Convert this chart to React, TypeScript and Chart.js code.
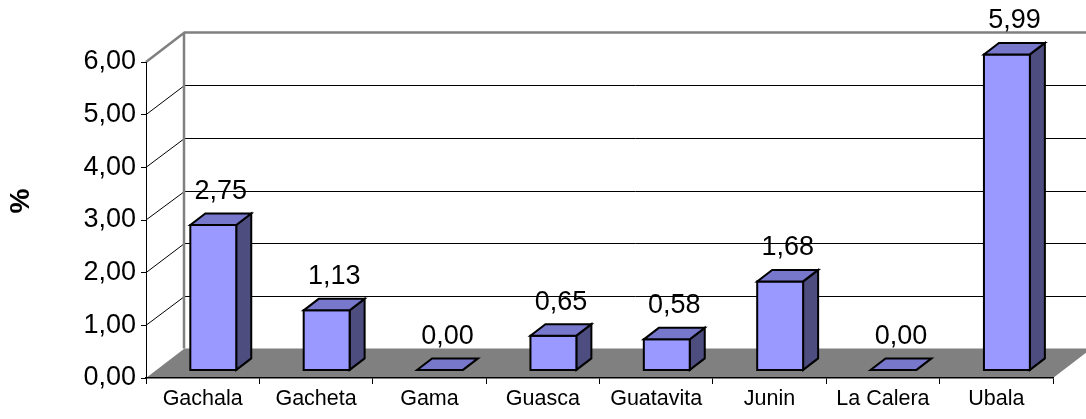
import React, { useEffect, useRef } from "react";
import { Chart, registerables } from "chart.js";

Chart.register(...registerables);

const categories = ["Gachala", "Gacheta", "Gama", "Guasca", "Guatavita", "Junin", "La Calera", "Ubala"];
const values = [2.75, 1.13, 0.0, 0.65, 0.58, 1.68, 0.0, 5.99];
const yTickValues = [0, 1, 2, 3, 4, 5, 6];
const yTitle = "%";

const FONT = "'Liberation Sans', Arial, Helvetica, sans-serif";
const fmt = (v: number) => v.toFixed(2).replace(".", ",");

const DEPTH = { x: 38.5, y: -29.5 };
const BAR_FRONT = 0.275;
const BAR_DEPTH = 0.39;
const BAR_WIDTH = 0.405;

const COLORS = {
  front: "#9999FF",
  top: "#7777CC",
  side: "#4D4D80",
  floor: "#808080",
  wallEdge: "#808080",
  grid: "#000000",
};

const threeD = {
  id: "threeD",
  beforeDraw(chart: any) {
    const { ctx, chartArea, scales } = chart;
    const ys = scales.y;
    const x0 = chartArea.left;
    const x1 = chartArea.right;
    const yb = ys.getPixelForValue(0);
    const yt = ys.getPixelForValue(yTickValues[yTickValues.length - 1]);
    ctx.save();
    // floor
    ctx.fillStyle = COLORS.floor;
    ctx.beginPath();
    ctx.moveTo(x0, yb);
    ctx.lineTo(x1, yb);
    ctx.lineTo(x1 + DEPTH.x, yb + DEPTH.y);
    ctx.lineTo(x0 + DEPTH.x, yb + DEPTH.y);
    ctx.closePath();
    ctx.fill();
    // gridlines
    ctx.strokeStyle = COLORS.grid;
    ctx.lineWidth = 1;
    for (const v of yTickValues) {
      if (v === 0 || v === yTickValues[yTickValues.length - 1]) continue;
      const py = ys.getPixelForValue(v);
      const by = Math.round(py + DEPTH.y) + 0.5;
      ctx.beginPath();
      ctx.moveTo(x0, py);
      ctx.lineTo(x0 + DEPTH.x, by);
      ctx.lineTo(x1 + DEPTH.x + 10, by);
      ctx.stroke();
    }
    // wall edges
    ctx.strokeStyle = COLORS.wallEdge;
    ctx.lineWidth = 2.5;
    ctx.beginPath();
    ctx.moveTo(x0, yt);
    ctx.lineTo(x0 + DEPTH.x, yt + DEPTH.y);
    ctx.lineTo(x1 + DEPTH.x + 10, yt + DEPTH.y);
    ctx.moveTo(x0 + DEPTH.x - 0.5, yt + DEPTH.y);
    ctx.lineTo(x0 + DEPTH.x - 0.5, yb + DEPTH.y);
    ctx.stroke();
    // y title
    ctx.fillStyle = "#000";
    ctx.font = `bold 28px ${FONT}`;
    ctx.textAlign = "center";
    ctx.textBaseline = "middle";
    ctx.translate(21, 201);
    ctx.rotate(-Math.PI / 2);
    ctx.fillText(yTitle, 0, 0);
    ctx.restore();
  },
  afterDatasetsDraw(chart: any) {
    const { ctx, scales } = chart;
    const xs = scales.x;
    const ys = scales.y;
    const catW = xs.width / categories.length;
    const w = catW * BAR_WIDTH;
    const bdx = DEPTH.x * BAR_DEPTH;
    const bdy = DEPTH.y * BAR_DEPTH;
    ctx.save();
    ctx.lineWidth = 2;
    ctx.strokeStyle = "#000";
    ctx.lineJoin = "miter";
    values.forEach((v, i) => {
      const cx = xs.getPixelForValue(i);
      const fx0 = cx - w / 2 + DEPTH.x * BAR_FRONT;
      const fx1 = fx0 + w;
      const fyB = ys.getPixelForValue(0) + DEPTH.y * BAR_FRONT;
      const fyT = ys.getPixelForValue(v) + DEPTH.y * BAR_FRONT;
      if (fyB - fyT > 0.5) {
        ctx.fillStyle = COLORS.side;
        ctx.beginPath();
        ctx.moveTo(fx1, fyT);
        ctx.lineTo(fx1 + bdx, fyT + bdy);
        ctx.lineTo(fx1 + bdx, fyB + bdy);
        ctx.lineTo(fx1, fyB);
        ctx.closePath();
        ctx.fill();
        ctx.stroke();
        ctx.fillStyle = COLORS.front;
        ctx.beginPath();
        ctx.rect(fx0, fyT, w, fyB - fyT);
        ctx.fill();
        ctx.stroke();
      }
      ctx.fillStyle = COLORS.top;
      ctx.beginPath();
      ctx.moveTo(fx0, fyT);
      ctx.lineTo(fx1, fyT);
      ctx.lineTo(fx1 + bdx, fyT + bdy);
      ctx.lineTo(fx0 + bdx, fyT + bdy);
      ctx.closePath();
      ctx.fill();
      ctx.stroke();
      ctx.fillStyle = "#000";
      ctx.font = `27px ${FONT}`;
      ctx.textAlign = "center";
      ctx.textBaseline = "middle";
      ctx.fillText(fmt(v), fx0 + (w + bdx) / 2, fyT + bdy - 22);
    });
    ctx.restore();
  },
};

export default function App() {
  const ref = useRef<HTMLCanvasElement | null>(null);
  useEffect(() => {
    if (!ref.current) return;
    const chart = new Chart(ref.current, {
      type: "bar",
      data: {
        labels: categories,
        datasets: [
          {
            data: values,
            backgroundColor: "rgba(0,0,0,0)",
            borderWidth: 0,
          },
        ],
      },
      options: {
        responsive: false,
        animation: false,
        devicePixelRatio: 1,
        layout: { padding: { top: 62, right: 33, left: 0, bottom: 0 } },
        plugins: { legend: { display: false }, tooltip: { enabled: false } },
        scales: {
          x: {
            offset: true,
            grid: { offset: true, drawOnChartArea: false, drawTicks: true, tickLength: 6, color: "#000" },
            border: { display: true, color: "#000", width: 1.5 },
            ticks: { font: { family: FONT, size: 21.5 }, color: "#000", padding: 2, maxRotation: 0, autoSkip: false },
            afterFit(s: any) {
              s.height = 41;
            },
          },
          y: {
            min: 0,
            max: 6,
            ticks: {
              stepSize: 1,
              font: { family: FONT, size: 27 },
              color: "#000",
              padding: 5,
              callback: (v: any) => fmt(Number(v)),
            },
            grid: { drawOnChartArea: false, drawTicks: true, tickLength: 5, color: "#000" },
            border: { display: true, color: "#000", width: 1 },
            afterFit(s: any) {
              s.width = 146;
            },
          },
        },
      },
      plugins: [threeD],
    });
    return () => chart.destroy();
  }, []);
  return (
    <div style={{ position: "fixed", left: 0, top: 0, width: 1086, height: 419 }}>
      <canvas ref={ref} width={1086} height={419} />
    </div>
  );
}
